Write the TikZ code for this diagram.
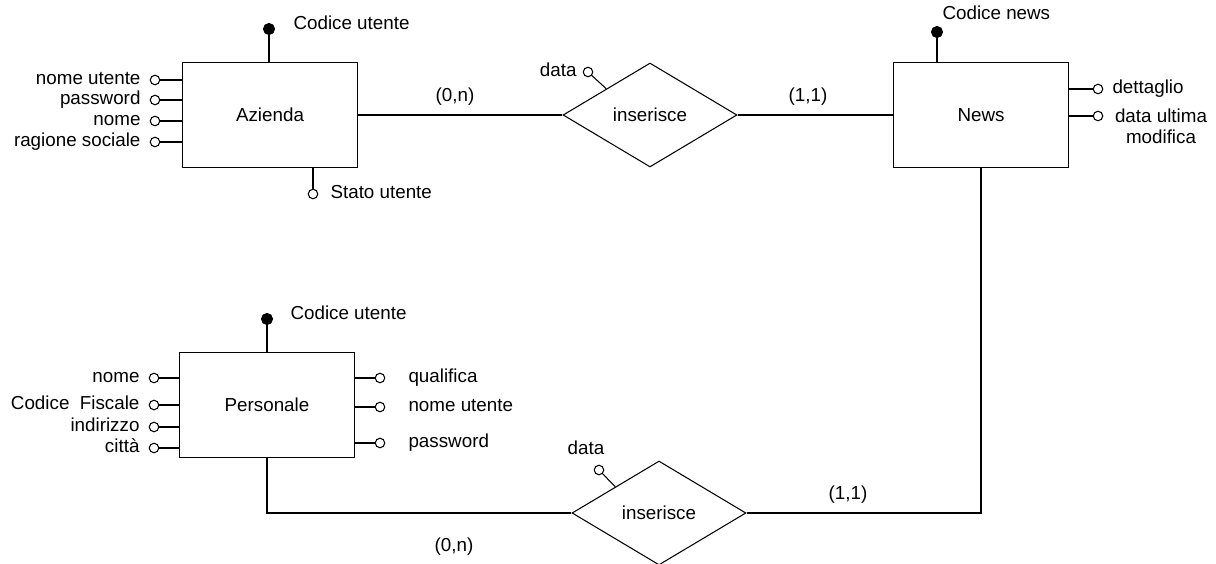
\documentclass[tikz,border=0pt]{standalone}
\usepackage{fontspec}
\setmainfont{Liberation Sans}
\usetikzlibrary{shapes.geometric}

\begin{document}
\begin{tikzpicture}[x=0.02cm, y=-0.02cm, line width=0.6pt,
  every node/.style={font=\fontsize{10.7}{12}\selectfont},
  entity/.style={draw, minimum width=3.5cm, minimum height=2.1cm, inner sep=0pt},
  relation/.style={draw, diamond, aspect=1.66, minimum width=3.48cm, minimum height=2.08cm, inner sep=0pt},
  attr/.style={draw, circle, fill=white, minimum size=0.19cm, inner sep=0pt},
  key/.style={attr, fill=black, minimum size=0.22cm},
  lbl/.style={inner sep=0pt, text height=0.72em, text depth=0.2em}]
\useasboundingbox (0,0) rectangle (1216,564);

% entities
\node[entity] (azienda) at (270,115) {Azienda};
\node[entity] (news) at (981,115) {News};
\node[entity] (personale) at (267,405) {Personale};

% relationships
\node[relation] (ins1) at (650,115) {inserisce};
\node[relation] (ins2) at (659,513) {inserisce};

% links and cardinalities
\draw (azienda.east) -- (ins1.west);
\draw (ins1.east) -- (news.west);
\draw (news.south) |- (ins2.east);
\draw (personale.south) |- (ins2.west);
\node[lbl] (card1) at (455,97) {(0,n)};
\node[lbl] (card2) at (808,97) {(1,1)};
\node[lbl] (card3) at (848,495) {(1,1)};
\node[lbl] (card4) at (454,547) {(0,n)};

% azienda attributes
\node[key] (kaz) at (269,29) {};
\draw (kaz) -- (kaz |- azienda.north);
\node[lbl, anchor=west] (lkaz) at (293,25) {Codice utente};
\foreach \y/\t [count=\i] in {80/nome utente, 100/password, 121/nome, 142/ragione sociale} {
  \node[attr] (aza\i) at (155,\y) {};
  \node[lbl, anchor=east] (lza\i) at (141,\y) {\t};
  \draw (aza\i) -- (aza\i -| azienda.west);
}
\node[attr] (stato) at (313,194) {};
\draw (stato) -- (stato |- azienda.south);
\node[lbl, anchor=west] (lstato) at (330,194) {Stato utente};

% news attributes
\node[key] (knews) at (937,32) {};
\draw (knews) -- (knews |- news.north);
\node[lbl, anchor=west] (lknews) at (942,15) {Codice news};
\node[attr] (nw1) at (1098,89) {};
\draw (nw1) -- (nw1 -| news.east);
\node[lbl, anchor=west] (lnw1) at (1112,89) {dettaglio};
\node[attr] (nw2) at (1098,116) {};
\draw (nw2) -- (nw2 -| news.east);
\node[inner sep=0pt, align=center] (lnw2) at (1161,126.5) {data ultima\\modifica};

% personale attributes
\node[key] (kpe) at (267,319) {};
\draw (kpe) -- (kpe |- personale.north);
\node[lbl, anchor=west] (lkpe) at (290,315) {Codice utente};
\foreach \y/\t [count=\i] in {378/nome, 405/{Codice\ \ Fiscale}, 427/indirizzo, 448/città} {
  \node[attr] (pel\i) at (154,\y) {};
  \node[lbl, anchor=east] (lpl\i) at (140,\y) {\t};
  \draw (pel\i) -- (pel\i -| personale.west);
}
\foreach \y/\t [count=\i] in {378/qualifica, 407/nome utente, 443/password} {
  \node[attr] (per\i) at (380,\y) {};
  \node[lbl, anchor=west] (lpr\i) at (408,\y) {\t};
  \draw (per\i) -- (per\i -| personale.east);
}

% relationship attributes
\node[attr] (dat1) at (588,72) {};
\draw (dat1) -- (ins1.north west);
\node[lbl, anchor=east] (ldat1) at (577,72) {data};
\node[attr] (dat2) at (599,470) {};
\draw (dat2) -- (ins2.north west);
\node[lbl] (ldat2) at (586,450) {data};
\end{tikzpicture}
\end{document}
